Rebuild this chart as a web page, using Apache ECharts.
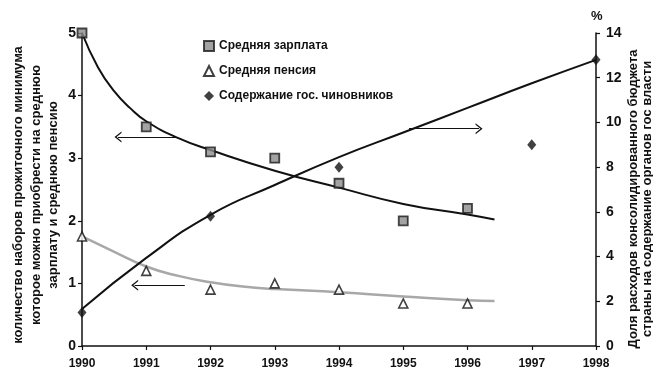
<!DOCTYPE html>
<html><head><meta charset="utf-8">
<script src="https://cdn.jsdelivr.net/npm/echarts@6/dist/echarts.min.js"></script>
<style>html,body{margin:0;padding:0;background:#fff}#c{width:653px;height:382px}</style>
</head><body><div id="c"></div>
<script>
const years = [1990, 1991, 1992, 1993, 1994, 1995, 1996, 1997, 1998];
const salaryYears = [1990, 1991, 1992, 1993, 1994, 1995, 1996];
const salary = [5.0, 3.5, 3.1, 3.0, 2.6, 2.0, 2.2];
const pensionYears = [1990, 1991, 1992, 1993, 1994, 1995, 1996];
const pension = [1.75, 1.2, 0.9, 1.0, 0.9, 0.68, 0.68];
const officialsYears = [1990, 1992, 1994, 1997, 1998];
const officials = [1.5, 5.8, 8.0, 9.0, 12.8];
// trend curves
const salaryTrendX = [1990, 1990.25, 1990.5, 1990.75, 1991, 1991.5, 1992, 1993, 1994, 1995, 1996, 1996.42];
const salaryTrendY = [5.0, 4.45, 4.07, 3.8, 3.59, 3.32, 3.13, 2.8, 2.53, 2.27, 2.1, 2.02];
const pensionTrendX = [1990, 1990.43, 1991, 1991.5, 1992, 1992.5, 1993, 1994, 1995, 1996, 1996.42];
const pensionTrendY = [1.75, 1.54, 1.27, 1.12, 1.02, 0.95, 0.91, 0.86, 0.79, 0.73, 0.72];
const officialsTrendX = [1990, 1991, 1992, 1993, 1994, 1995, 1996, 1997, 1998];
const officialsTrendY = [1.65, 3.94, 5.87, 7.2, 8.45, 9.55, 10.65, 11.75, 12.8];
const leftTicks = [0, 1, 2, 3, 4, 5];
const rightTicks = [0, 2, 4, 6, 8, 10, 12, 14];
const names = ['Средняя зарплата', 'Средняя пенсия', 'Содержание гос. чиновников'];
const leftTitle = 'количество наборов прожиточного минимума\nкоторое можно приобрести на среднюю\nзарплату и среднюю пенсию';
const rightTitle = 'Доля расходов консолидированного бюджета\nстраны на содержание органов гос власти';
// arrows [x1, x2, y]
const arrowSalary = [1990.56, 1991.48, 3.34];
const arrowPension = [1990.82, 1991.6, 0.97];
const arrowOfficials = [1995.09, 1996.18, 9.72];

const zip = (xs, ys) => xs.map((x, i) => [x, ys[i]]);
const FONT = '"Liberation Sans", Arial, sans-serif';
const chev = 'path://M0,10 L5,0 L10,10 L8.6,10 L5,3 L1.4,10 Z';
function arrowLine(a, dir) {
  return {
    silent: true, animation: false,
    symbol: dir === 'left' ? [chev, 'none'] : ['none', chev],
    symbolSize: [11, 7],
    lineStyle: { color: '#111', width: 1, type: 'solid' },
    label: { show: false },
    data: [[{ coord: [a[0], a[2]] }, { coord: [a[1], a[2]] }]]
  };
}
const chart = echarts.init(document.getElementById('c'));
chart.setOption({
  animation: false,
  backgroundColor: '#fff',
  textStyle: { fontFamily: FONT },
  grid: { left: 82, right: 57, top: 33, bottom: 36, outerBoundsMode: 'none', containLabel: false },
  legend: {
    orient: 'vertical', left: 198, top: 35, itemGap: 13,
    itemWidth: 10, itemHeight: 10,
    data: names,
    textStyle: { fontFamily: FONT, fontWeight: 'bold', fontSize: 12, color: '#111' }
  },
  graphic: [
    { type: 'text', left: 591, top: 10, style: { text: '%', font: 'bold 13px ' + FONT, fill: '#111' } },
    { type: 'text', x: 36, y: 195, rotation: Math.PI / 2, silent: true,
      style: { text: leftTitle, font: 'bold 13px ' + FONT, fill: '#111', align: 'center', verticalAlign: 'middle', lineHeight: 17.5 } },
    { type: 'text', x: 640, y: 199, rotation: Math.PI / 2, silent: true,
      style: { text: rightTitle, font: 'bold 13px ' + FONT, fill: '#111', align: 'center', verticalAlign: 'middle', lineHeight: 14 } }
  ],
  xAxis: {
    type: 'value', min: years[0], max: years[years.length - 1], interval: 1,
    axisLine: { lineStyle: { color: '#111', width: 1.5 } },
    axisTick: { length: 4, lineStyle: { color: '#111', width: 1.2 } },
    axisLabel: { color: '#111', fontWeight: 'bold', fontSize: 12, margin: 12, fontFamily: FONT,
      formatter: v => String(v) },
    splitLine: { show: false }
  },
  yAxis: [{
    type: 'value', min: leftTicks[0], max: leftTicks[leftTicks.length - 1], interval: 1,
    axisLine: { show: true, lineStyle: { color: '#111', width: 1.5 } },
    axisTick: { show: true, length: 4, lineStyle: { color: '#111', width: 1.2 } },
    axisLabel: { color: '#111', fontWeight: 'bold', fontSize: 14, margin: 6, fontFamily: FONT },
    splitLine: { show: false }
  }, {
    type: 'value', position: 'right', min: rightTicks[0], max: rightTicks[rightTicks.length - 1], interval: 2,
    axisLine: { show: true, lineStyle: { color: '#111', width: 1.5 } },
    axisTick: { show: true, length: 4, lineStyle: { color: '#111', width: 1.2 } },
    axisLabel: { color: '#111', fontWeight: 'bold', fontSize: 14, margin: 10, fontFamily: FONT },
    splitLine: { show: false }
  }],
  series: [
    { type: 'line', data: zip(salaryTrendX, salaryTrendY), smooth: 0.5, showSymbol: false, symbol: 'none',
      lineStyle: { color: '#111', width: 2 }, z: 2, silent: true,
      markLine: arrowLine(arrowSalary, 'left') },
    { type: 'line', data: zip(pensionTrendX, pensionTrendY), smooth: 0.5, showSymbol: false, symbol: 'none',
      lineStyle: { color: '#a8a8a8', width: 2.5 }, z: 2, silent: true,
      markLine: arrowLine(arrowPension, 'left') },
    { type: 'line', yAxisIndex: 1, data: zip(officialsTrendX, officialsTrendY), smooth: 0.5, showSymbol: false, symbol: 'none',
      lineStyle: { color: '#111', width: 2 }, z: 2, silent: true,
      markLine: arrowLine(arrowOfficials, 'right') },
    { name: names[0], type: 'scatter', data: zip(salaryYears, salary), symbol: 'rect', symbolSize: 9,
      itemStyle: { color: '#8c8c8c', borderColor: '#1a1a1a', borderWidth: 1.8 }, z: 5 },
    { name: names[1], type: 'scatter', data: zip(pensionYears, pension), symbol: 'triangle', symbolSize: 9,
      itemStyle: { color: '#fff', borderColor: '#111', borderWidth: 1.6 }, z: 5 },
    { name: names[2], type: 'scatter', yAxisIndex: 1, data: zip(officialsYears, officials), symbol: 'diamond', symbolSize: [9, 11],
      itemStyle: { color: '#111' }, z: 5 }
  ]
});
</script></body></html>
